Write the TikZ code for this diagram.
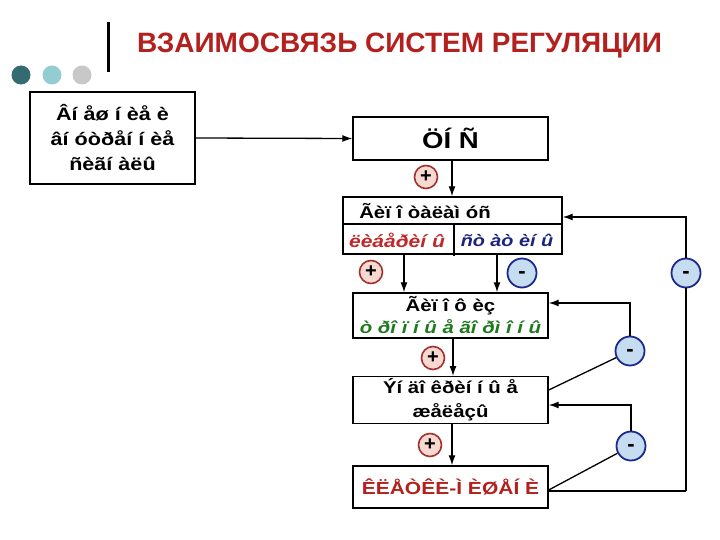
\documentclass[tikz,border=0pt]{standalone}
\usepackage{fontspec}
\setmainfont{Liberation Sans}
\newfontfamily\slidefont[FakeStretch=1.2]{Liberation Sans}
\usepackage{xcolor}
\usepackage{tikz}
\usetikzlibrary{shapes,arrows,arrows.meta,positioning,calc}

\definecolor{titlered}{HTML}{B3211F}
\definecolor{plusred}{HTML}{A3302B}
\definecolor{pluspink}{HTML}{F7D9D2}
\definecolor{minusblue}{HTML}{1C2A8C}
\definecolor{minuslight}{HTML}{C6DCF1}
\definecolor{libred}{HTML}{C0282A}
\definecolor{statblue}{HTML}{1A237E}
\definecolor{tropgreen}{HTML}{1F7A1F}
\definecolor{dotdark}{HTML}{336B70}
\definecolor{dotlight}{HTML}{93CDD2}
\definecolor{dotgray}{HTML}{C8C8C8}

\begin{document}
\begin{tikzpicture}[
    x=1pt, y=-1pt,
    box/.style={rectangle, draw, line width=1.4pt, fill=white, align=center, inner sep=2pt},
    pbadge/.style={circle, draw=plusred, line width=1.6pt, fill=pluspink, minimum size=23pt, inner sep=0pt, font=\bfseries\fontsize{20}{20}\selectfont},
    mbadge/.style={circle, draw=minusblue, line width=1.8pt, fill=minuslight, minimum size=29pt, inner sep=0pt, text height=11pt, text depth=0pt, font=\bfseries\fontsize{22}{22}\selectfont},
    arrow/.style={-{Latex[length=10pt,width=7pt]}, line width=1.3pt},
    link/.style={line width=1.3pt}
]
    \useasboundingbox (0,0) rectangle (720,540);

    % Heading
    \fill[dotdark] (21,75) circle (9.5pt);
    \fill[dotlight] (52,75) circle (9.5pt);
    \fill[dotgray] (82,75) circle (9.5pt);
    \draw[line width=3pt] (108,22) -- (108,72);
    \node[font=\bfseries\fontsize{28}{28}\selectfont, text=titlered] (title) at (399.5,46) {ВЗАИМОСВЯЗЬ СИСТЕМ РЕГУЛЯЦИИ};

    % Boxes
    \node[box, minimum width=165pt, minimum height=92pt, font=\slidefont\bfseries\fontsize{18}{25}\selectfont] (signals) at (112.5,138) {Âí åø í èå è\\âí óòðåí í èå\\ñèãí àëû};
    \node[box, minimum width=195pt, minimum height=43pt, font=\slidefont\bfseries\fontsize{23}{23}\selectfont] (cns) at (450.5,138.5) {ÖÍ Ñ};

    \node[box, minimum width=219pt, minimum height=57pt] (hyp) at (452.5,225.5) {};
    \node[font=\slidefont\bfseries\fontsize{17}{17}\selectfont] (hyptitle) at (425,211) {Ãèï î òàëàì óñ};
    \coordinate (split) at (454,224);
    \draw[link] (hyp.west |- split) -- (hyp.east |- split);
    \draw[link] (split) -- (split |- 0,256);
    \node[font=\slidefont\bfseries\itshape\fontsize{17.5}{17.5}\selectfont, text=libred] (lib) at (397,240) {ëèáåðèí û};
    \node[font=\slidefont\bfseries\itshape\fontsize{16.5}{16.5}\selectfont, text=statblue] (stat) at (507,240) {ñò àò èí û};

    \node[box, minimum width=195pt, minimum height=45pt, font=\slidefont\bfseries\fontsize{17}{22}\selectfont] (pit) at (450.5,315.5) {Ãèï î ô èç\\\textcolor{tropgreen}{\itshape ò ðî ï í û å ãî ðì î í û}};
    \node[box, minimum width=195pt, minimum height=46pt, font=\slidefont\bfseries\fontsize{17}{24}\selectfont] (endo) at (450.5,400) {Ýí äî êðèí í û å\\æåëåçû};
    \node[box, minimum width=195pt, minimum height=42pt, font=\slidefont\bfseries\fontsize{17.5}{17.5}\selectfont, text=titlered] (tgt) at (450.5,487) {ÊËÅÒÊÈ-Ì ÈØÅÍ È};

    % Forward chain
    \draw[arrow] (signals.east) -- (cns.west);
    \draw[arrow] ([xshift=1.5pt]cns.south) -- ([xshift=1.5pt]cns.south |- hyp.north);
    \draw[arrow] ([xshift=-48.5pt]hyp.south) -- ([xshift=-48.5pt]hyp.south |- pit.north);
    \draw[arrow] ([xshift=44.5pt]hyp.south) -- ([xshift=44.5pt]hyp.south |- pit.north);
    \draw[arrow] ([xshift=2.5pt]pit.south) -- ([xshift=2.5pt]pit.south |- endo.north);
    \draw[arrow] ([xshift=1.5pt]endo.south) -- ([xshift=1.5pt]endo.south |- tgt.north);

    % Feedback
    \coordinate (loop) at (686,491);
    \node[mbadge] (m4) at (686,273) {-};
    \node[mbadge] (m2) at (630,351) {-};
    \node[mbadge] (m3) at (631,446) {-};
    \draw[link] ([yshift=-4pt]tgt.east) -- (loop);
    \draw[arrow] (loop) -- (m4.south) (m4.north) |- ([yshift=8.5pt]hyp.east);
    \draw[link] ([yshift=10pt]endo.east) -- (m2);
    \draw[arrow] (m2.north) |- ([yshift=12.5pt]pit.east);
    \draw[link] ([yshift=-3pt]tgt.east) -- (m3);
    \draw[arrow] (m3.north) |- ([yshift=-5pt]endo.east);

    % Signs on the forward chain
    \node[pbadge] (p1) at (426,177) {+};
    \node[pbadge] (p2) at (371,272) {+};
    \node[pbadge] (p3) at (433,358) {+};
    \node[pbadge] (p4) at (430,445) {+};
    \node[mbadge] (m1) at (522,273) {-};
\end{tikzpicture}
\end{document}
